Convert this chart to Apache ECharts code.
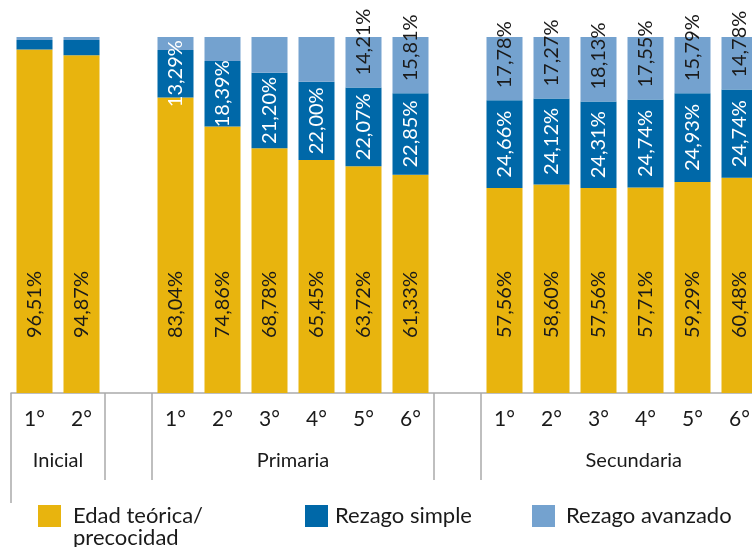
<!DOCTYPE html>
<html>
<head>
<meta charset="utf-8">
<script src="https://cdn.jsdelivr.net/npm/echarts@6/dist/echarts.min.js"></script>
<style>
html, body { margin: 0; padding: 0; background: #fff; }
#chart { width: 752px; height: 547px; }
</style>
</head>
<body>
<div id="chart"></div>
<script>
// grados (con una ranura vacía entre niveles)
const grados = ['1°', '2°', '', '1°', '2°', '3°', '4°', '5°', '6°', '', '1°', '2°', '3°', '4°', '5°', '6°'];
const niveles = ['Inicial', 'Primaria', 'Secundaria'];
const nivelPos = [1, 6, 13.25];      // donde va el nombre del nivel
const nivelCortes = [2, 3, 9, 10];   // separadores largos entre niveles

// porcentajes por grado
const edadTeorica = [96.51, 94.87, null, 83.04, 74.86, 68.78, 65.45, 63.72, 61.33, null, 57.56, 58.60, 57.56, 57.71, 59.29, 60.48];
const rezagoSimple = [2.65, 4.28, null, 13.29, 18.39, 21.20, 22.00, 22.07, 22.85, null, 24.66, 24.12, 24.31, 24.74, 24.93, 24.74];
const rezagoAvanzado = [0.84, 0.85, null, 3.67, 6.75, 10.02, 12.55, 14.21, 15.81, null, 17.78, 17.27, 18.13, 17.55, 15.79, 14.78];

const FONT = 'Lato';
const GRIS = '#ababab';
const TXT = '#1a1a1a';
const fmt = v => v.toFixed(2).replace('.', ',') + '%';

const chart = echarts.init(document.getElementById('chart'));

const legendBase = {
    padding: 0,
    itemWidth: 23,
    itemHeight: 22,
    icon: 'rect',
    selectedMode: false
};

const option = {
    animation: false,
    grid: { left: 11, right: -11, top: 37, bottom: 154, outerBoundsMode: 'none' },
    legend: [
        Object.assign({}, legendBase, {
            data: ['Edad teórica/precocidad'], left: 38, top: 483,
            // línea vacía arriba para que la primera línea quede al centro del cuadro
            formatter: () => '\nEdad teórica/\nprecocidad',
            textStyle: { fontSize: 22, lineHeight: 22, color: TXT, fontFamily: FONT, padding: [0, 0, 0, 7] }
        }),
        Object.assign({}, legendBase, {
            data: ['Rezago simple'], left: 305, top: 505,
            textStyle: { fontSize: 22, lineHeight: 22, color: TXT, fontFamily: FONT, padding: [0, 0, 0, 2] }
        }),
        Object.assign({}, legendBase, {
            data: ['Rezago avanzado'], left: 532, top: 505,
            textStyle: { fontSize: 22, lineHeight: 22, color: TXT, fontFamily: FONT, padding: [0, 0, 0, 6] }
        })
    ],
    xAxis: [
        {
            type: 'category',
            data: grados,
            position: 'bottom',
            axisLine: { lineStyle: { color: GRIS, width: 1.5 } },
            axisTick: { interval: 0, length: 37, lineStyle: { color: GRIS, width: 1.5 } },
            axisLabel: { interval: 0, margin: 16, fontSize: 21, color: TXT, fontFamily: FONT }
        },
        {
            type: 'value', min: 0, max: 16, position: 'bottom',
            axisLine: { show: false }, splitLine: { show: false },
            axisTick: { show: true, customValues: nivelCortes, length: 87, lineStyle: { color: GRIS, width: 1.5 } },
            axisLabel: {
                customValues: nivelPos, margin: 58, fontSize: 20, color: TXT, fontFamily: FONT,
                formatter: v => niveles[nivelPos.indexOf(v)]
            }
        },
        {
            type: 'value', min: 0, max: 16, position: 'bottom',
            axisLine: { show: false }, splitLine: { show: false },
            axisTick: { show: true, customValues: [0], length: 110, lineStyle: { color: GRIS, width: 1.5 } },
            axisLabel: { show: false }
        }
    ],
    yAxis: { type: 'value', min: 0, max: 100, show: false },
    series: [
        {
            name: 'Edad teórica/precocidad', type: 'bar', stack: 'total', barWidth: 36,
            data: edadTeorica,
            itemStyle: { color: '#E8B40E' },
            label: {
                show: true, position: 'insideBottom', distance: 55, rotate: 90,
                align: 'left', verticalAlign: 'middle',
                color: TXT, fontSize: 20, fontFamily: FONT,
                formatter: p => fmt(p.value)
            }
        },
        {
            name: 'Rezago simple', type: 'bar', stack: 'total', barWidth: 36,
            data: rezagoSimple,
            itemStyle: { color: '#0068A8' },
            label: {
                show: true, position: 'inside', rotate: 90,
                align: 'center', verticalAlign: 'middle',
                color: '#fff', fontSize: 20, fontFamily: FONT,
                formatter: p => p.value >= 10 ? fmt(p.value) : ''
            }
        },
        {
            name: 'Rezago avanzado', type: 'bar', stack: 'total', barWidth: 36,
            data: rezagoAvanzado,
            itemStyle: { color: '#74A2CF' },
            label: {
                show: true, position: 'insideBottom', distance: 12, rotate: 90,
                align: 'left', verticalAlign: 'middle',
                color: TXT, fontSize: 20, fontFamily: FONT,
                formatter: p => p.value >= 14 ? fmt(p.value) : ''
            }
        }
    ]
};

chart.setOption(option);
</script>
</body>
</html>
